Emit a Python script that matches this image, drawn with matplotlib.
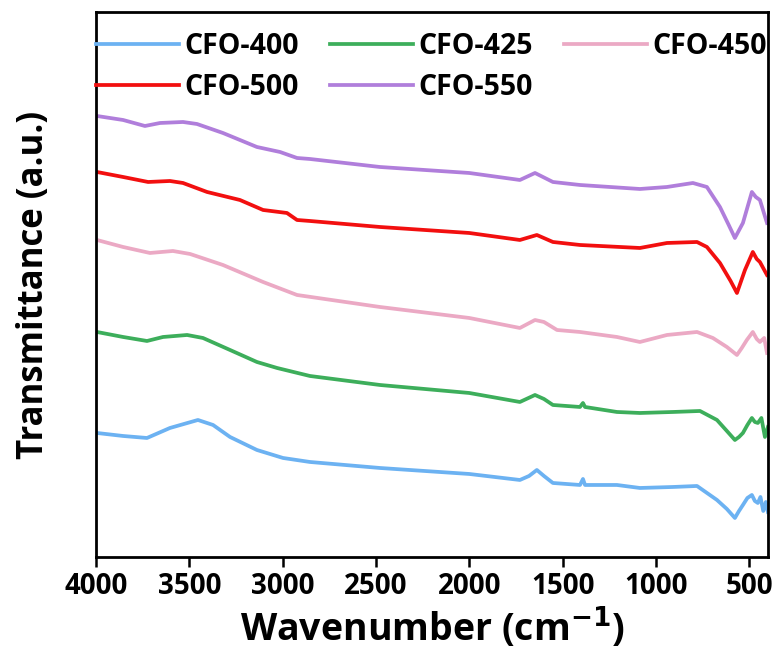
import numpy as np
import matplotlib.pyplot as plt

plt.rcParams['font.family'] = ['Open Sans', 'DejaVu Sans']
plt.rcParams['font.weight'] = 'bold'
plt.rcParams['mathtext.default'] = 'bf'

# FTIR spectra, stacked (arbitrary units)
wn_400 = [3995, 3855, 3727, 3604, 3454, 3373, 3282, 3138, 2998, 2854, 2479, 2000, 1729, 1680,
          1638, 1600, 1552, 1407, 1391, 1380, 1209, 1086, 909, 780, 673, 620, 577, 555, 534,
          510, 486, 470, 454, 440, 425, 411, 400]
t_400 = [12.4, 12.1, 11.9, 12.9, 13.7, 13.2, 12.0, 10.7, 9.9, 9.5, 8.9, 8.3, 7.7, 8.1,
         8.7, 8.1, 7.4, 7.2, 7.8, 7.2, 7.2, 6.9, 7.0, 7.1, 5.7, 4.8, 3.9, 4.6, 5.2,
         5.9, 6.2, 5.6, 5.4, 6.0, 4.6, 5.5, 4.5]

wn_425 = [3995, 3855, 3727, 3641, 3512, 3427, 3282, 3138, 3030, 2854, 2479, 2000, 1729, 1648,
          1600, 1552, 1407, 1391, 1380, 1209, 1086, 909, 764, 673, 620, 577, 555, 534, 510,
          486, 470, 454, 435, 416, 400]
t_425 = [22.5, 22.0, 21.6, 22.0, 22.2, 21.9, 20.7, 19.5, 18.9, 18.1, 17.2, 16.4, 15.5, 16.2,
         15.8, 15.2, 15.0, 15.4, 15.0, 14.5, 14.4, 14.5, 14.6, 13.7, 12.6, 11.7, 12.0, 12.4, 13.2,
         13.9, 13.5, 13.4, 13.9, 12.0, 13.0]

wn_450 = [3995, 3855, 3711, 3588, 3496, 3320, 3105, 2923, 2479, 2000, 1729, 1648, 1600, 1530,
          1407, 1209, 1086, 941, 780, 695, 620, 566, 540, 513, 481, 460, 443, 420, 405]
t_450 = [31.7, 31.0, 30.4, 30.6, 30.3, 29.2, 27.5, 26.2, 25.0, 23.9, 22.9, 23.7, 23.5, 22.7,
         22.5, 22.0, 21.5, 22.2, 22.5, 21.9, 21.0, 20.2, 20.9, 21.7, 22.5, 21.8, 21.5, 21.9, 20.4]

wn_500 = [3995, 3855, 3721, 3604, 3534, 3405, 3229, 3105, 2977, 2923, 2854, 2479, 2000, 1729,
          1638, 1552, 1407, 1086, 941, 780, 727, 657, 600, 566, 523, 481, 460, 443, 405]
t_500 = [38.5, 38.0, 37.5, 37.6, 37.4, 36.5, 35.7, 34.7, 34.4, 33.7, 33.6, 33.0, 32.4, 31.7,
         32.2, 31.5, 31.2, 30.9, 31.4, 31.5, 31.0, 29.4, 27.6, 26.4, 28.7, 30.5, 29.8, 29.5, 28.2]

wn_550 = [3995, 3855, 3738, 3657, 3534, 3459, 3320, 3138, 3014, 2923, 2854, 2479, 2000, 1729,
          1648, 1552, 1407, 1086, 941, 802, 727, 657, 610, 577, 534, 486, 465, 443, 405]
t_550 = [44.1, 43.7, 43.1, 43.4, 43.5, 43.3, 42.4, 41.0, 40.5, 39.9, 39.8, 39.0, 38.4, 37.7,
         38.4, 37.5, 37.2, 36.8, 37.0, 37.4, 37.0, 35.0, 33.2, 31.9, 33.4, 36.5, 36.0, 35.7, 33.4]

labels = ['CFO-400', 'CFO-425', 'CFO-450', 'CFO-500', 'CFO-550']
colors = ['#6CB2F2', '#3DAE5B', '#EBA9C4', '#F20F0F', '#B07EDB']
spectra = [(wn_400, t_400), (wn_425, t_425), (wn_450, t_450), (wn_500, t_500), (wn_550, t_550)]

fig = plt.figure(figsize=(7.82, 6.66), dpi=100)
ax = fig.add_axes([0.1228, 0.1637, 0.8592, 0.8183])

lines = []
for (wn, t), lab, c in zip(spectra, labels, colors):
    ln, = ax.plot(wn, t, color=c, lw=2.7, label=lab)
    lines.append(ln)

ax.set_xlim(4000, 400)
ax.set_ylim(0, 54.5)
ax.set_xticks([4000, 3500, 3000, 2500, 2000, 1500, 1000, 500])
ax.set_yticks([])
ax.tick_params(axis='x', direction='out', length=7, width=1.8, labelsize=20, pad=4)
for s in ax.spines.values():
    s.set_linewidth(2)

ax.set_xlabel(r'Wavenumber (cm$^{-1}$)', fontsize=27, fontweight='bold', labelpad=2)
ax.set_ylabel('Transmittance (a.u.)', fontsize=25, fontweight='bold', labelpad=32)

# legend fills column by column, so reorder to read row by row
order = [0, 3, 1, 4, 2]
ax.legend([lines[i] for i in order], [labels[i] for i in order],
          loc='upper left', bbox_to_anchor=(0.0, 0.963), ncol=3, frameon=False,
          fontsize=20.5, handlelength=2.9, handletextpad=0.2, columnspacing=1.1,
          borderaxespad=0, borderpad=0, labelspacing=0.42)

fig.savefig('out.png', dpi=100)
